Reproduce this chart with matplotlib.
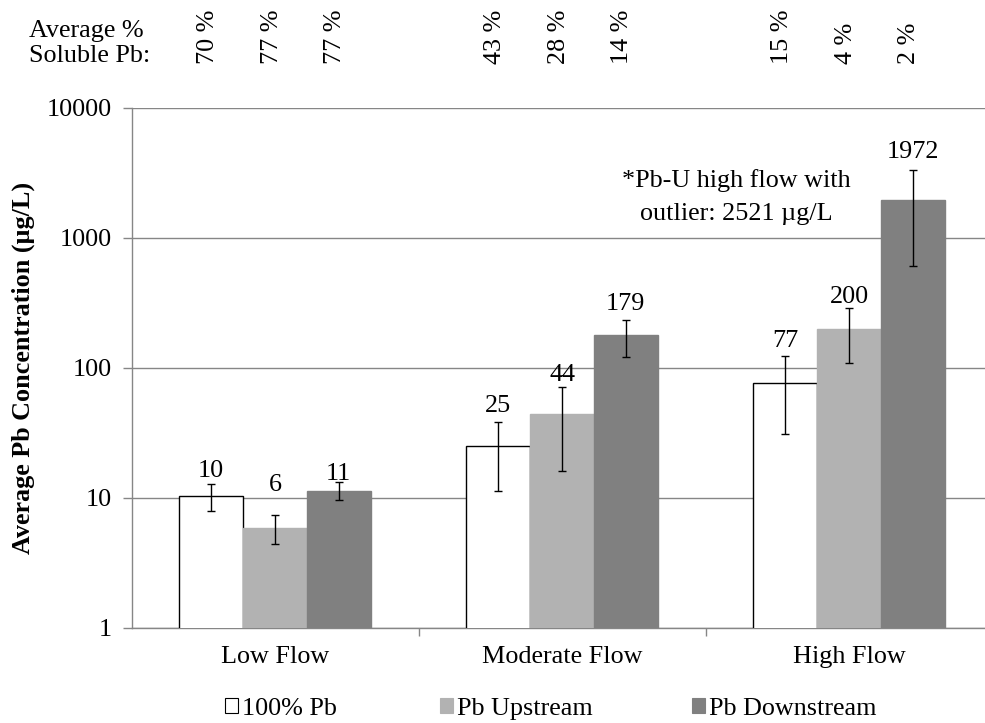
import matplotlib
matplotlib.use("Agg")
import matplotlib.pyplot as plt
import numpy as np
from matplotlib.patches import Patch
from matplotlib.transforms import blended_transform_factory

plt.rcParams['font.family'] = ['Liberation Serif', 'DejaVu Serif']

categories = ["Low Flow", "Moderate Flow", "High Flow"]
series_names = ["100% Pb", "Pb Upstream", "Pb Downstream"]
pb_100 = [10.4, 25.0, 77.0]
pb_up = [5.9, 44.0, 200.0]
pb_down = [11.4, 179.0, 1972.0]
err_100 = [2.4, 13.6, 46.0]
err_up = [1.5, 28.0, 90.0]
err_down = [1.8, 57.0, 1360.0]
soluble_100 = [70, 43, 15]
soluble_up = [77, 28, 4]
soluble_down = [77, 14, 2]
yticks = [1, 10, 100, 1000, 10000]
note_lines = ["*Pb-U high flow with", "outlier: 2521 \u00b5g/L"]

values = [pb_100, pb_up, pb_down]
errors = [err_100, err_up, err_down]
soluble = [soluble_100, soluble_up, soluble_down]
faces = ["white", "#b2b2b2", "#808080"]
edges = ["black", "#b2b2b2", "#808080"]
# gap (pixels) between each value label and the top of its error bar
label_gap = [[7, 10, 9], [24, 6, 5], [2, 10, 12]]

W, H = 985, 723
fig = plt.figure(figsize=(W / 100, H / 100), dpi=100)
ax = fig.add_axes([131.5 / W, 1 - 628 / H, 861 / W, 520 / H])

x = np.arange(len(categories))
bw = 0.222
offsets = [-bw, 0, bw]
grid_col = "#868686"
fs = 18.8
px = 72 / 100  # points per pixel

for i in range(3):
    xs = x + offsets[i]
    ax.bar(xs, values[i], width=bw, bottom=0, color=faces[i],
           edgecolor=edges[i], linewidth=1.0, zorder=3)
    ax.errorbar(xs, values[i], yerr=errors[i], fmt="none", ecolor="black",
                elinewidth=1.0, capsize=3, capthick=1.0, zorder=4)
    for j in range(3):
        top = values[i][j] + errors[i][j]
        ax.annotate(f"{values[i][j]:.0f}", (xs[j], top),
                    xytext=(0, label_gap[i][j] * px),
                    textcoords="offset points", ha="center", va="baseline",
                    fontsize=fs, zorder=5)

ax.set_yscale("log")
ax.set_ylim(1, 10000)
ax.set_xlim(-0.5, 2.5)
ax.set_yticks(yticks)
ax.set_yticklabels([str(t) for t in yticks])
ax.yaxis.set_minor_locator(matplotlib.ticker.NullLocator())
ax.yaxis.grid(True, color=grid_col, linewidth=1.0, zorder=0)
ax.set_axisbelow(True)
ax.set_xticks(x)
ax.set_xticklabels(categories)
ax.set_xticks([0.5, 1.5], minor=True)
ax.tick_params(axis="x", which="major", length=0, pad=13, labelsize=fs)
ax.tick_params(axis="x", which="minor", length=6, color=grid_col, width=1)
ax.tick_params(axis="y", which="major", length=6.5, color=grid_col, width=1,
               labelsize=fs, pad=8)
for s in ["top", "right"]:
    ax.spines[s].set_visible(False)
for s in ["left", "bottom"]:
    ax.spines[s].set_color(grid_col)
    ax.spines[s].set_linewidth(1.0)

ax.set_ylabel("Average Pb Concentration (\u00b5g/L)", fontsize=fs,
              fontweight="bold", labelpad=8)

# note about the outlier, two centred lines
for k, line in enumerate(note_lines):
    ax.text(1.606, 1 - (187 + 33 * k) / H, line, ha="center", va="baseline",
            fontsize=fs, transform=blended_transform_factory(ax.transData,
                                                             fig.transFigure))

# soluble fraction row above the plot
trans = blended_transform_factory(ax.transData, fig.transFigure)
for i in range(3):
    for j in range(3):
        ax.text(x[j] + offsets[i] - 0.012, 1 - 64 / H, f"{soluble[i][j]} %",
                rotation=90, ha="center", va="bottom", fontsize=fs,
                transform=trans, clip_on=False)
fig.text(29 / W, 1 - 37 / H, "Average %", ha="left", va="baseline",
         fontsize=fs)
fig.text(29 / W, 1 - 62 / H, "Soluble Pb:", ha="left", va="baseline",
         fontsize=fs)

# legend entries
legend_x = [225, 440, 692]
for i in range(3):
    h = Patch(facecolor=faces[i], edgecolor=("black" if i == 0 else edges[i]),
              linewidth=0.8)
    fig.legend([h], [series_names[i]], loc="center left",
               bbox_to_anchor=(legend_x[i] / W, 1 - 709 / H),
               frameon=False, fontsize=fs, handlelength=0.5,
               handleheight=0.5, handletextpad=0.15, borderaxespad=0,
               borderpad=0)

fig.savefig("out.png", dpi=100, facecolor="white")
